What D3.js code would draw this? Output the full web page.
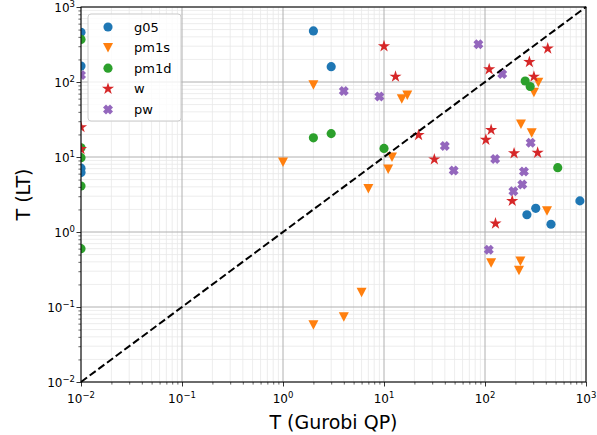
<!DOCTYPE html>
<html>
<head>
<meta charset="utf-8">
<script src="https://cdn.jsdelivr.net/npm/d3@7"></script>
<style>
  body { margin: 0; background: #fff; }
  text { font-family: "DejaVu Sans", sans-serif; }
</style>
</head>
<body>
<svg id="chart" width="597" height="435"></svg>
<script>
// series values (x = Gurobi QP time, y = LT time)
var g05X  = [0.01, 0.01, 0.01, 0.01, 2, 3, 260, 318, 450, 870];
var g05Y  = [460, 163, 7.1, 6.2, 480, 160, 1.7, 2.07, 1.27, 2.6];
var pm1sX = [2, 15, 17, 1, 12, 11, 7, 6, 4, 2, 227, 290, 337, 305, 411, 115, 224, 217];
var pm1sY = [92, 60, 67, 8.6, 10, 6.9, 3.8, 0.157, 0.074, 0.058, 27.5, 21, 99, 73, 1.92, 0.39, 0.41, 0.31];
var pm1dX = [0.01, 0.01, 0.01, 0.01, 0.01, 2, 3, 10, 250, 280, 525];
var pm1dY = [370, 13.3, 9.8, 4.1, 0.6, 18, 20.5, 13, 103, 87, 7.2];
var wX    = [0.01, 0.01, 10, 13, 110, 275, 305, 418, 22, 31.5, 115, 102, 194, 332, 186, 127];
var wY    = [25, 12.8, 300, 118, 148, 185, 118, 280, 19.6, 9.3, 23, 17, 11.2, 11.4, 2.6, 1.3];
var pwX   = [0.01, 4, 9, 86, 148, 40, 49, 126, 283, 243, 234, 191, 109];
var pwY   = [124, 76, 64, 318, 128, 14, 6.6, 9.4, 15.5, 6.4, 4.3, 3.5, 0.58];

var seriesNames = ["g05", "pm1s", "pm1d", "w", "pw"];
var tickExps = [-2, -1, 0, 1, 2, 3];

var colors = {g05: "#1f77b4", pm1s: "#ff7f0e", pm1d: "#2ca02c", w: "#d62728", pw: "#9467bd"};

var series = [
  {name: "g05",  xs: g05X,  ys: g05Y},
  {name: "pm1s", xs: pm1sX, ys: pm1sY},
  {name: "pm1d", xs: pm1dX, ys: pm1dY},
  {name: "w",    xs: wX,    ys: wY},
  {name: "pw",   xs: pwX,   ys: pwY}
];

var pLeft = 81, pRight = 586, pTop = 7, pBottom = 382;
var W = pRight - pLeft, H = pBottom - pTop;

var SVG = d3.select("#chart");

var x = d3.scaleLog().domain([1e-2, 1e3]).range([pLeft, pRight]);
var y = d3.scaleLog().domain([1e-2, 1e3]).range([pBottom, pTop]);

// minor tick values 2..9 per decade
var minors = [];
tickExps.slice(0, -1).forEach(function(e){
  for (var k = 2; k < 10; k++) minors.push(k * Math.pow(10, e));
});
var majors = tickExps.map(function(e){ return Math.pow(10, e); });

// grid
var grid = SVG.append("g");
grid.selectAll(".minorx").data(minors).enter().append("line")
    .attr("x1", function(d){ return x(d); }).attr("x2", function(d){ return x(d); })
    .attr("y1", pTop).attr("y2", pBottom)
    .attr("stroke", "#e8e8e8").attr("stroke-width", 0.8);
grid.selectAll(".minory").data(minors).enter().append("line")
    .attr("y1", function(d){ return y(d); }).attr("y2", function(d){ return y(d); })
    .attr("x1", pLeft).attr("x2", pRight)
    .attr("stroke", "#e8e8e8").attr("stroke-width", 0.8);
grid.selectAll(".majorx").data(majors).enter().append("line")
    .attr("x1", function(d){ return x(d); }).attr("x2", function(d){ return x(d); })
    .attr("y1", pTop).attr("y2", pBottom)
    .attr("stroke", "#b0b0b0").attr("stroke-width", 1);
grid.selectAll(".majory").data(majors).enter().append("line")
    .attr("y1", function(d){ return y(d); }).attr("y2", function(d){ return y(d); })
    .attr("x1", pLeft).attr("x2", pRight)
    .attr("stroke", "#b0b0b0").attr("stroke-width", 1);

// clip for markers
SVG.append("clipPath").attr("id", "plotclip")
   .append("rect").attr("x", pLeft).attr("y", pTop).attr("width", W).attr("height", H);

// marker paths
function markerPath(name){
  if (name == "g05" || name == "pm1d") return d3.symbol().type(d3.symbolCircle).size(66)();
  if (name == "pm1s") return "M0,5L-5,-4.5L5,-4.5Z";
  if (name == "w") return d3.symbol().type(d3.symbolStar).size(46)();
  if (name == "pw") return "M-2,-5L0,-3L2,-5L5,-2L3,0L5,2L2,5L0,3L-2,5L-5,2L-3,0L-5,-2Z";
};

var pts = SVG.append("g").attr("clip-path", "url(#plotclip)");
series.forEach(function(s){
  var data = s.xs.map(function(v, i){ return [v, s.ys[i]]; });
  pts.selectAll(".m-" + s.name).data(data).enter().append("path")
     .attr("class", "m-" + s.name)
     .attr("d", markerPath(s.name))
     .attr("transform", function(d){ return "translate(" + x(d[0]) + "," + y(d[1]) + ")"; })
     .attr("fill", colors[s.name]);
});

// diagonal y = x
SVG.append("line")
   .attr("x1", x(1e-2)).attr("y1", y(1e-2)).attr("x2", x(1e3)).attr("y2", y(1e3))
   .attr("stroke", "#000").attr("stroke-width", 2).attr("stroke-dasharray", "7.5,3.3");

// axes (ticks only, labels drawn separately for superscripts)
var xAxis = d3.axisBottom(x).tickValues(majors.concat(minors)).tickFormat("")
              .tickSizeOuter(0).tickSize(4.5);
var yAxis = d3.axisLeft(y).tickValues(majors.concat(minors)).tickFormat("")
              .tickSizeOuter(0).tickSize(4.5);
var gx = SVG.append("g").attr("transform", "translate(0," + pBottom + ")").call(xAxis);
var gy = SVG.append("g").attr("transform", "translate(" + pLeft + ",0)").call(yAxis);
[gx, gy].forEach(function(g){
  g.select(".domain").remove();
  g.selectAll(".tick line").attr("stroke", "#000").attr("stroke-width", 0.8);
  g.selectAll(".tick").filter(function(d){ return minors.indexOf(d) >= 0; })
   .select("line").attr(g === gx ? "y2" : "x2", g === gx ? 2.6 : -2.6).attr("stroke-width", 0.6);
});

// frame
SVG.append("rect").attr("x", pLeft).attr("y", pTop).attr("width", W).attr("height", H)
   .attr("fill", "none").attr("stroke", "#000").attr("stroke-width", 1);

// tick labels with superscripts
function powLabel(sel, e){
  sel.append("tspan").text("10");
  sel.append("tspan").attr("dy", -5).attr("font-size", 8.5).text(e < 0 ? "\u2212" + (-e) : e);
};
tickExps.forEach(function(e){
  var t = SVG.append("text").attr("x", x(Math.pow(10, e))).attr("y", 403)
             .attr("text-anchor", "middle").attr("font-size", 12).attr("fill", "#000");
  powLabel(t, e);
  var t2 = SVG.append("text").attr("x", 75).attr("y", y(Math.pow(10, e)) + 4.5)
              .attr("text-anchor", "end").attr("font-size", 12).attr("fill", "#000");
  powLabel(t2, e);
});

// axis titles
SVG.append("text").attr("x", (pLeft + pRight) / 2).attr("y", 429)
   .attr("text-anchor", "middle").attr("font-size", 19).text("T (Gurobi QP)");
SVG.append("text").attr("transform", "translate(30," + (pTop + pBottom) / 2 + ") rotate(-90)")
   .attr("text-anchor", "middle").attr("font-size", 19).text("T (LT)");

// legend
var lg = SVG.append("g");
lg.append("rect").attr("x", 88).attr("y", 14).attr("width", 93).attr("height", 107)
  .attr("rx", 3).attr("fill", "#fff").attr("fill-opacity", 0.8)
  .attr("stroke", "#cccccc").attr("stroke-width", 1);
seriesNames.forEach(function(n, i){
  var cy = 27 + i * 20.6;
  lg.append("path").attr("d", markerPath(n))
    .attr("transform", "translate(108," + cy + ")")
    .attr("fill", colors[n]);
  lg.append("text").attr("x", 134).attr("y", cy + 4.5).attr("font-size", 13).text(n);
});
</script>
</body>
</html>
